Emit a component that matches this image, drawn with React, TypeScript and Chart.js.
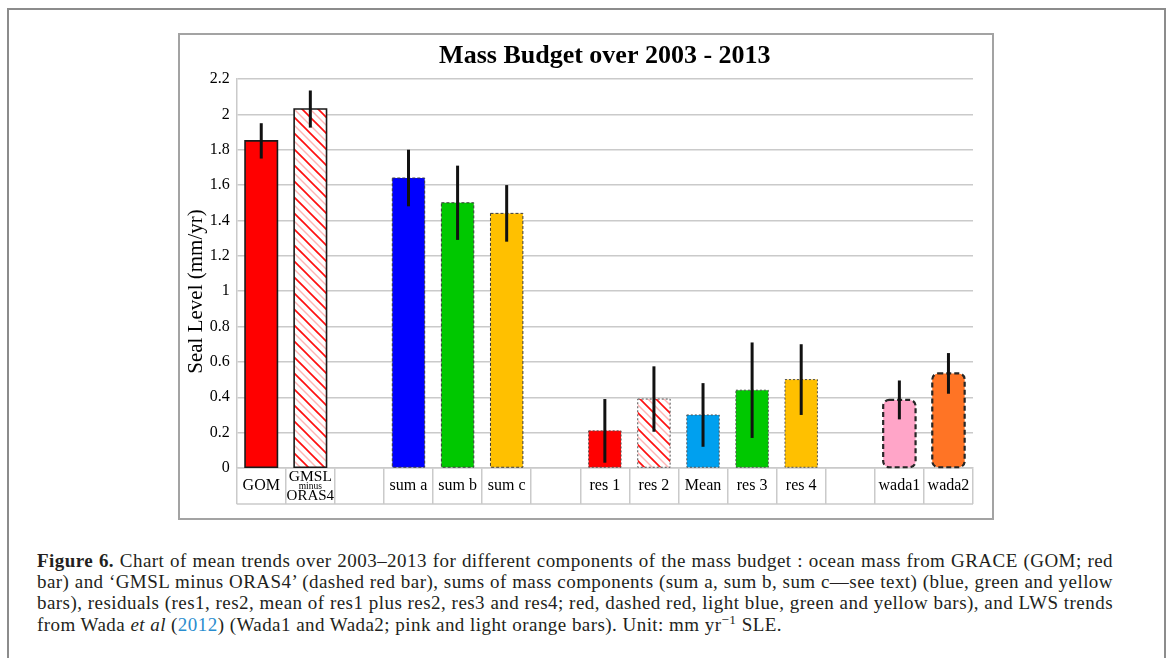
import React, { useEffect, useRef } from 'react';
import { Chart, registerables } from 'chart.js';

Chart.register(...registerables);

// ---------- data ----------
const categories = ['GOM', 'GMSL minus ORAS4', '', 'sum a', 'sum b', 'sum c', '', 'res 1', 'res 2', 'Mean', 'res 3', 'res 4', '', 'wada1', 'wada2'];
const trends: (number | null)[] = [1.85, 2.03, null, 1.64, 1.5, 1.44, null, 0.21, 0.39, 0.3, 0.44, 0.5, null, 0.385, 0.535];
const errors: (number | null)[] = [0.1, 0.105, null, 0.16, 0.21, 0.16, null, 0.18, 0.185, 0.18, 0.27, 0.2, null, 0.11, 0.115];
const yTickLabels = ['0', '0.2', '0.4', '0.6', '0.8', '1', '1.2', '1.4', '1.6', '1.8', '2', '2.2'];
const chartTitle = 'Mass Budget over 2003 - 2013';
const yAxisTitle = 'Seal Level (mm/yr)';

// ---------- styles ----------
const fills = ['#ff0000', 'hatch', null, '#0000ff', '#00c800', '#ffc000', null, '#ff0000', 'hatch', '#00a0ef', '#00c800', '#ffc000', null, '#ffa5c8', '#ff7425'];
const borderStyles = ['solid', 'solid', null, 'dashed', 'dashed', 'dashed', null, 'dotted', 'dotted', 'dotted', 'dotted', 'dotted', null, 'bold', 'bold'];
const barRadius = [0, 0, 0, 0, 0, 0, 0, 0, 0, 0, 0, 0, 0, 6, 6];

const SERIF = '"Liberation Serif", "Times New Roman", serif';
const GRID = '#cacaca';
const CELL_H = 36;

function makeHatch(): CanvasPattern | string {
  const s = 16;
  const c = document.createElement('canvas');
  c.width = s;
  c.height = s;
  const g = c.getContext('2d');
  if (!g) return '#ffffff';
  g.fillStyle = '#ffffff';
  g.fillRect(0, 0, s, s);
  const line = (off: number, color: string, w: number) => {
    g.strokeStyle = color;
    g.lineWidth = w;
    g.beginPath();
    g.moveTo(off - 2, -2);
    g.lineTo(off + s + 2, s + 2);
    g.stroke();
  };
  [-s / 2, s / 2].forEach((o) => line(o, '#ffb4b4', 1.4));
  [-s, 0, s].forEach((o) => line(o, '#ff1010', 1.7));
  return g.createPattern(c, 'repeat') || '#ffffff';
}

const overlayPlugin = {
  id: 'overlay',
  afterDatasetsDraw(chart: any) {
    const { ctx } = chart;
    const yScale = chart.scales.y;
    const meta = chart.getDatasetMeta(0);
    meta.data.forEach((bar: any, i: number) => {
      const v = trends[i];
      if (v == null) return;
      const { x, y, base, width } = bar.getProps(['x', 'y', 'base', 'width'], true);
      const left = x - width / 2;
      const top = Math.min(y, base);
      const h = Math.abs(base - y);
      const st = borderStyles[i];
      ctx.save();
      if (st === 'solid') {
        ctx.strokeStyle = '#1a1a1a';
        ctx.lineWidth = 1.6;
        ctx.setLineDash([]);
      } else if (st === 'dashed') {
        ctx.strokeStyle = '#3a3a3a';
        ctx.lineWidth = 1;
        ctx.setLineDash([3, 2]);
      } else if (st === 'dotted') {
        ctx.strokeStyle = '#505050';
        ctx.lineWidth = 1;
        ctx.setLineDash([2, 2]);
      } else {
        ctx.strokeStyle = '#262626';
        ctx.lineWidth = 2.2;
        ctx.setLineDash([5, 3]);
      }
      ctx.beginPath();
      const r = barRadius[i] || 0;
      if (r > 0 && (ctx as any).roundRect) {
        (ctx as any).roundRect(left, top, width, h, r);
      } else {
        ctx.rect(left, top, width, h);
      }
      ctx.stroke();
      ctx.restore();

      const e = errors[i];
      if (e != null) {
        ctx.save();
        ctx.strokeStyle = '#111111';
        ctx.lineWidth = 3;
        ctx.beginPath();
        ctx.moveTo(x, yScale.getPixelForValue(v + e));
        ctx.lineTo(x, yScale.getPixelForValue(v - e));
        ctx.stroke();
        ctx.restore();
      }
    });
  },
  afterDraw(chart: any) {
    const { ctx, chartArea } = chart;
    const xScale = chart.scales.x;
    ctx.save();
    // bottom edge of the label cells
    ctx.strokeStyle = GRID;
    ctx.lineWidth = 1.5;
    ctx.beginPath();
    ctx.moveTo(xScale.left, chartArea.bottom + CELL_H);
    ctx.lineTo(xScale.right, chartArea.bottom + CELL_H);
    ctx.stroke();

    // stacked label
    const idx = categories.findIndex((c) => c.includes(' minus '));
    if (idx >= 0) {
      const parts = categories[idx].split(' ');
      const sizes = [15.5, 9.5, 15];
      const offs = [8.5, 18.5, 28.5];
      const cx = xScale.getPixelForValue(idx);
      ctx.fillStyle = '#000';
      ctx.textAlign = 'center';
      ctx.textBaseline = 'middle';
      parts.forEach((p, k) => {
        ctx.font = `${sizes[k]}px ${SERIF}`;
        ctx.fillText(p, cx, chartArea.bottom + offs[k]);
      });
    }

    // y axis title, centred over plot + label cells
    ctx.translate(16, (chartArea.top + chartArea.bottom + CELL_H) / 2);
    ctx.rotate(-Math.PI / 2);
    ctx.font = `21px ${SERIF}`;
    ctx.fillStyle = '#000';
    ctx.textAlign = 'center';
    ctx.textBaseline = 'middle';
    ctx.fillText(yAxisTitle, 0, 0);
    ctx.restore();
  },
};

export default function App() {
  const canvasRef = useRef<HTMLCanvasElement>(null);

  useEffect(() => {
    const canvas = canvasRef.current;
    if (!canvas) return;
    const hatch = makeHatch();
    const bg = fills.map((f) => (f === 'hatch' ? hatch : f ?? 'rgba(0,0,0,0)'));
    const chart = new Chart(canvas, {
      type: 'bar',
      data: {
        labels: categories,
        datasets: [
          {
            data: trends as any,
            backgroundColor: bg as any,
            borderWidth: 0,
            borderSkipped: false,
            borderRadius: ((c: any) => barRadius[c.dataIndex] || 0) as any,
            barPercentage: 0.66,
            categoryPercentage: 1,
          },
        ],
      },
      options: {
        responsive: false,
        animation: false,
        devicePixelRatio: 1,
        layout: { padding: { left: 0, right: 19, top: 0, bottom: 14 } },
        plugins: {
          legend: { display: false },
          tooltip: { enabled: false },
          title: {
            display: true,
            text: chartTitle,
            fullSize: false,
            color: '#000',
            font: { family: SERIF, size: 26, weight: 'bold', lineHeight: 1.2 },
            padding: { top: 6, bottom: 6.8 },
          },
        },
        scales: {
          x: {
            type: 'category',
            offset: true,
            grid: {
              display: true,
              offset: true,
              drawOnChartArea: false,
              drawTicks: true,
              tickLength: CELL_H,
              color: GRID,
              lineWidth: 1.5,
            },
            border: { display: true, color: GRID, width: 1.5 },
            ticks: {
              autoSkip: false,
              maxRotation: 0,
              minRotation: 0,
              padding: -27.6,
              color: '#000',
              font: { family: SERIF, size: 16, lineHeight: 1.2 },
              callback: (_v: any, i: number) => (categories[i].includes(' minus ') ? '' : categories[i]),
            },
            afterFit: (s: any) => {
              s.height = CELL_H;
            },
          },
          y: {
            min: 0,
            max: 2.2,
            grid: { color: GRID, lineWidth: 1.5, drawTicks: false },
            border: { display: true, color: GRID, width: 1.5 },
            ticks: {
              stepSize: 0.2,
              padding: 7,
              color: '#000',
              font: { family: SERIF, size: 16 },
              callback: (_v: any, i: number) => yTickLabels[i] ?? '',
            },
            afterFit: (s: any) => {
              s.width = 56.7;
            },
          },
        },
      },
      plugins: [overlayPlugin],
    });
    return () => chart.destroy();
  }, []);

  const line: React.CSSProperties = { textAlign: 'justify', textAlignLast: 'justify' as any, whiteSpace: 'nowrap', height: 21.2 };

  return (
    <div style={{ position: 'fixed', left: 0, top: 0, width: 1170, height: 658, overflow: 'hidden', background: '#fff' }}>
      <div style={{ position: 'absolute', left: 7, top: 8, width: 1155, height: 700, border: '2px solid #8c8c8c' }} />
      <div style={{ position: 'absolute', left: 178, top: 33, width: 812, height: 483, border: '2px solid #a3a3a3', background: '#fff' }}>
        <canvas ref={canvasRef} width={812} height={483} style={{ display: 'block', width: 812, height: 483 }} />
      </div>
      <div style={{ position: 'absolute', left: 37, top: 550, width: 1076, fontFamily: SERIF, fontSize: 19, letterSpacing: '0.45px', lineHeight: '21.2px', color: '#231f20' }}>
        <div style={line}>
          <b>Figure 6.</b> Chart of mean trends over 2003–2013 for different components of the mass budget : ocean mass from GRACE (GOM; red
        </div>
        <div style={line}>
          bar) and ‘GMSL minus ORAS4’ (dashed red bar), sums of mass components (sum a, sum b, sum c—see text) (blue, green and yellow
        </div>
        <div style={line}>
          bars), residuals (res1, res2, mean of res1 plus res2, res3 and res4; red, dashed red, light blue, green and yellow bars), and LWS trends
        </div>
        <div style={{ whiteSpace: 'nowrap' }}>
          from Wada <i>et al</i> (<span style={{ color: '#2a8dcf' }}>2012</span>) (Wada1 and Wada2; pink and light orange bars). Unit: mm yr<sup style={{ fontSize: '0.7em', lineHeight: 0 }}>−1</sup> SLE.
        </div>
      </div>
    </div>
  );
}
